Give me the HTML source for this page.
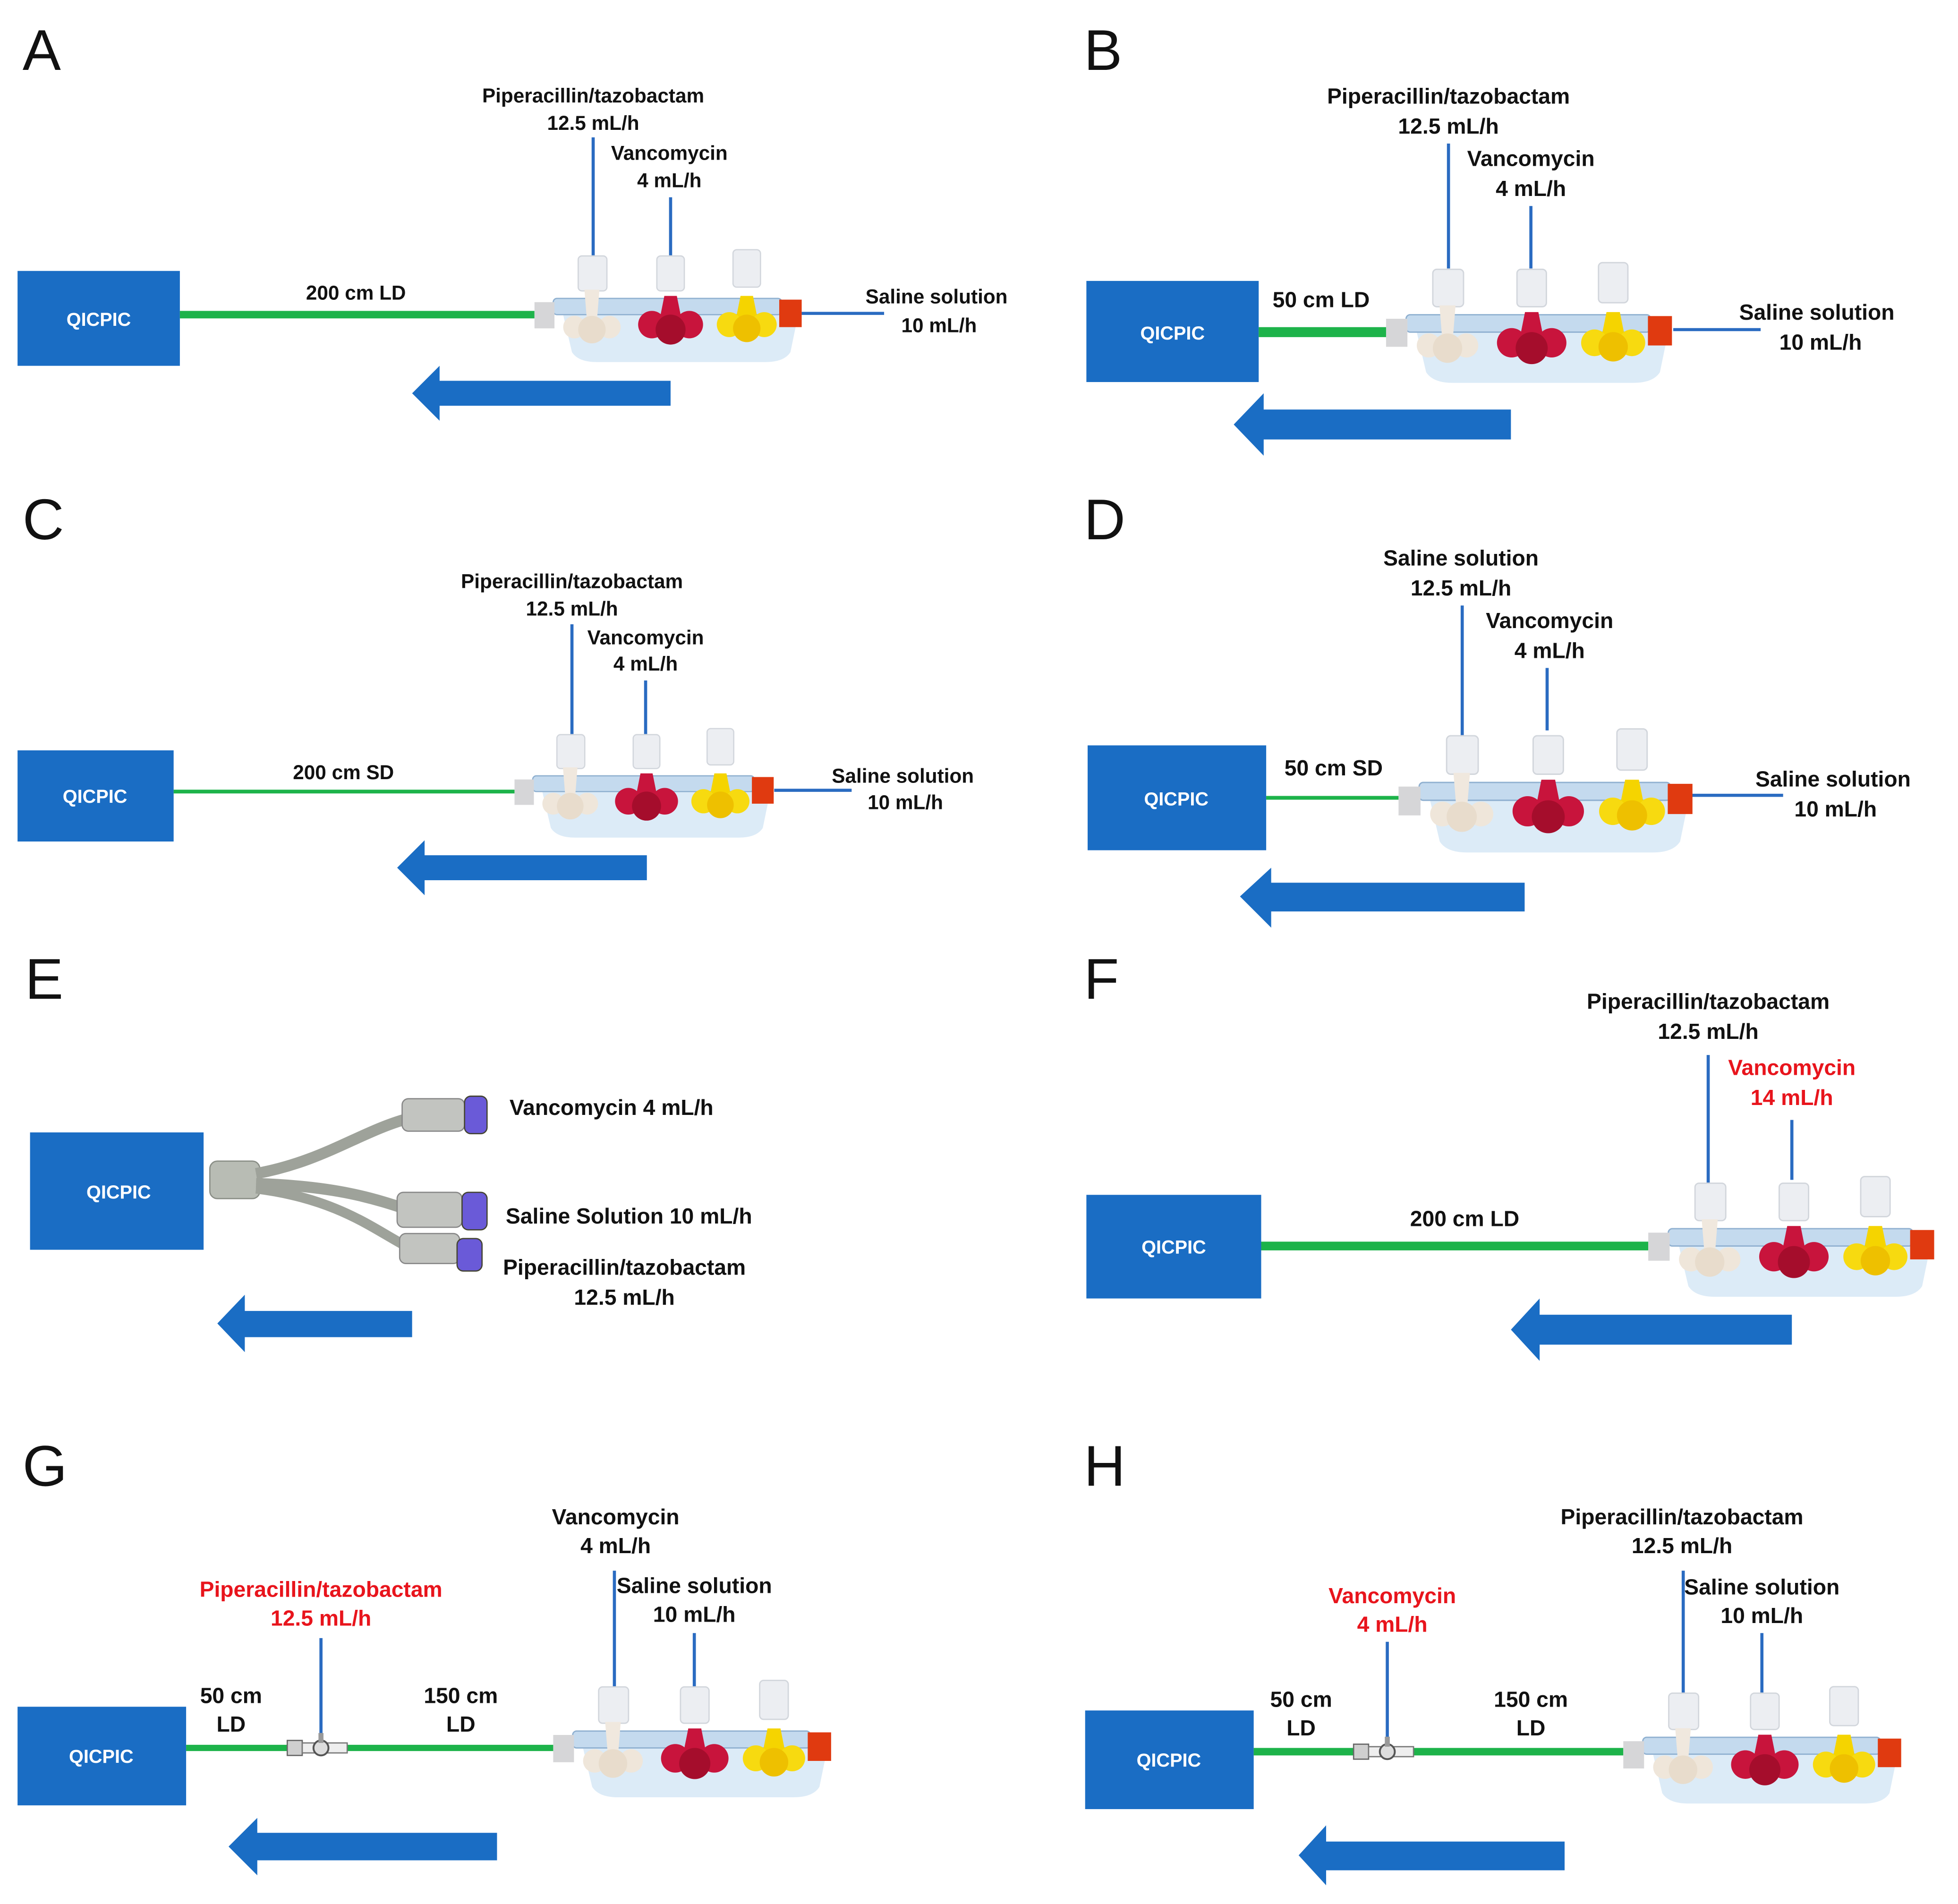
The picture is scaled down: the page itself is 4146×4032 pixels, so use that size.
<!DOCTYPE html>
<html><head><meta charset="utf-8">
<style>
html,body{margin:0;padding:0;background:#fff;}
svg{display:block;}
text{font-family:"Liberation Sans",sans-serif;font-weight:bold;fill:#111;text-anchor:middle;}
.L{font-weight:normal;font-size:46px;text-anchor:start;}
.q{fill:#fff;font-size:15px;}
.r{fill:#e8141c;}
</style></head><body>
<svg width="4146" height="4032" viewBox="0 0 1568 1525" xmlns="http://www.w3.org/2000/svg">
<defs>
<g id="man">
 <path d="M22,-4 L212,-4 L205,30 Q200,38 185,38 L50,38 Q35,38 30,30 Z" fill="#dcebf7"/>
 <rect x="15" y="-13" width="183" height="13" rx="3" fill="#c4daee" stroke="#8fb0d0" stroke-width="1"/>
 <rect x="0" y="-10" width="16" height="21" fill="#d6d6d8"/>
 <rect x="35" y="-47" width="23" height="28" rx="3" fill="#eceef2" stroke="#d2d6dc"/>
 <path d="M40,-20 L52,-20 L50,5 L42,5Z" fill="#f0e8de"/>
 <circle cx="32" cy="10" r="9" fill="#efe6da"/><circle cx="60" cy="10" r="9" fill="#efe6da"/><circle cx="46" cy="12" r="11" fill="#e8dccc"/>
 <rect x="98" y="-47" width="22" height="28" rx="3" fill="#eceef2" stroke="#d2d6dc"/>
 <path d="M104,-15 L114,-15 L118,5 L100,5Z" fill="#c8143c"/>
 <circle cx="94" cy="8" r="11" fill="#c8143c"/><circle cx="124" cy="8" r="11" fill="#c8143c"/><circle cx="109" cy="12" r="12" fill="#a50d2c"/>
 <rect x="159" y="-52" width="22" height="30" rx="3" fill="#eceef2" stroke="#d2d6dc"/>
 <path d="M165,-15 L175,-15 L179,5 L161,5Z" fill="#f5d400"/>
 <circle cx="156" cy="8" r="10" fill="#f7da10"/><circle cx="184" cy="8" r="10" fill="#f7da10"/><circle cx="170" cy="11" r="11" fill="#eec000"/>
 <rect x="196" y="-12" width="18" height="22" fill="#e03a10"/>
</g>
<g id="sc">
 <rect x="-27" y="-6" width="12" height="12" fill="#cfcfcf" stroke="#666" stroke-width="1"/>
 <rect x="-15" y="-4" width="36" height="8" fill="#eee" stroke="#777" stroke-width="1"/>
 <circle cx="0" cy="0" r="6" fill="#ddd" stroke="#555" stroke-width="1.5"/>
 <rect x="-2" y="-12" width="4" height="8" fill="#999"/>
</g>
</defs>
<g fill="#1a6dc4">
<rect x="14" y="217" width="130" height="76"/>
<rect x="870" y="225" width="138" height="81"/>
<rect x="14" y="601" width="125" height="73"/>
<rect x="871" y="597" width="143" height="84"/>
<rect x="24" y="907" width="139" height="94"/>
<rect x="870" y="957" width="140" height="83"/>
<rect x="14" y="1367" width="135" height="79"/>
<rect x="869" y="1370" width="135" height="79"/>
<path d="M352,305 L537,305 L537,325 L352,325 L352,337 L330,315 L352,293Z"/>
<path d="M1012,328 L1210,328 L1210,352 L1012,352 L1012,365 L988,340 L1012,315Z"/>
<path d="M340,685 L518,685 L518,705 L340,705 L340,717 L318,695 L340,673Z"/>
<path d="M1018,707 L1221,707 L1221,730 L1018,730 L1018,743 L993,718 L1018,695Z"/>
<path d="M196,1050 L330,1050 L330,1071 L196,1071 L196,1083 L174,1060 L196,1037Z"/>
<path d="M1233,1053 L1435,1053 L1435,1077 L1233,1077 L1233,1090 L1210,1065 L1233,1040Z"/>
<path d="M206,1468 L398,1468 L398,1490 L206,1490 L206,1502 L183,1479 L206,1456Z"/>
<path d="M1062,1475 L1253,1475 L1253,1498 L1062,1498 L1062,1510 L1040,1486 L1062,1462Z"/>
</g>
<g stroke="#1db34a">
<line x1="144" y1="252" x2="428" y2="252" stroke-width="6"/>
<line x1="1008" y1="266" x2="1112" y2="266" stroke-width="8"/>
<line x1="139" y1="634" x2="412" y2="634" stroke-width="3"/>
<line x1="1014" y1="639" x2="1120" y2="639" stroke-width="3"/>
<line x1="1010" y1="998" x2="1320" y2="998" stroke-width="7"/>
<line x1="149" y1="1400" x2="443" y2="1400" stroke-width="5"/>
<line x1="1004" y1="1403" x2="1300" y2="1403" stroke-width="6"/>
</g>
<g stroke="#2a6bc1" stroke-width="2.5">
<line x1="475" y1="110" x2="475" y2="205"/><line x1="537" y1="158" x2="537" y2="205"/><line x1="642" y1="251" x2="708" y2="251"/>
<line x1="1160" y1="115" x2="1160" y2="215"/><line x1="1226" y1="165" x2="1226" y2="215"/><line x1="1340" y1="264" x2="1410" y2="264"/>
<line x1="458" y1="500" x2="458" y2="590"/><line x1="517" y1="545" x2="517" y2="590"/><line x1="620" y1="633" x2="682" y2="633"/>
<line x1="1171" y1="485" x2="1171" y2="590"/><line x1="1239" y1="535" x2="1239" y2="585"/><line x1="1355" y1="637" x2="1428" y2="637"/>
<line x1="1368" y1="845" x2="1368" y2="948"/><line x1="1435" y1="897" x2="1435" y2="945"/>
<line x1="257" y1="1312" x2="257" y2="1390"/><line x1="492" y1="1258" x2="492" y2="1360"/><line x1="556" y1="1308" x2="556" y2="1360"/>
<line x1="1111" y1="1315" x2="1111" y2="1393"/><line x1="1348" y1="1258" x2="1348" y2="1360"/><line x1="1411" y1="1308" x2="1411" y2="1360"/>
</g>
<use href="#man" transform="translate(428,252)"/>
<use href="#man" transform="translate(1110,266) scale(1.07)"/>
<use href="#man" transform="translate(412,634) scale(0.97)"/>
<use href="#man" transform="translate(1120,641) scale(1.1)"/>
<use href="#man" transform="translate(1320,998) scale(1.07)"/>
<use href="#man" transform="translate(443,1400) scale(1.04)"/>
<use href="#man" transform="translate(1300,1405) scale(1.04)"/>
<use href="#sc" transform="translate(257,1400)"/>
<use href="#sc" transform="translate(1111,1403)"/>
<!-- E connector -->
<g>
<rect x="168" y="930" width="40" height="30" rx="6" fill="#b8bcb4" stroke="#8a8e86"/>
<path d="M205,940 C260,930 290,905 330,895" stroke="#9ea29a" stroke-width="9" fill="none"/>
<path d="M205,948 C270,950 300,960 330,970" stroke="#9ea29a" stroke-width="9" fill="none"/>
<path d="M205,952 C270,960 300,985 325,998" stroke="#9ea29a" stroke-width="8" fill="none"/>
<rect x="322" y="880" width="50" height="26" rx="5" fill="#c2c4c0" stroke="#888"/>
<rect x="318" y="955" width="52" height="28" rx="5" fill="#c2c4c0" stroke="#888"/>
<rect x="320" y="988" width="48" height="24" rx="5" fill="#c2c4c0" stroke="#888"/>
<rect x="372" y="878" width="18" height="30" rx="5" fill="#6a5ad8" stroke="#443"/>
<rect x="370" y="955" width="20" height="30" rx="5" fill="#6a5ad8" stroke="#443"/>
<rect x="366" y="992" width="20" height="26" rx="5" fill="#6a5ad8" stroke="#443"/>
</g>
<g class="L">
<text x="18" y="56" class="L">A</text><text x="868" y="56" class="L">B</text>
<text x="18" y="432" class="L">C</text><text x="868" y="432" class="L">D</text>
<text x="20" y="800" class="L">E</text><text x="868" y="800" class="L">F</text>
<text x="18" y="1190" class="L">G</text><text x="868" y="1190" class="L">H</text>
</g>
<g class="q">
<text x="79" y="261" class="q">QICPIC</text><text x="939" y="272" class="q">QICPIC</text>
<text x="76" y="643" class="q">QICPIC</text><text x="942" y="645" class="q">QICPIC</text>
<text x="95" y="960" class="q">QICPIC</text><text x="940" y="1004" class="q">QICPIC</text>
<text x="81" y="1412" class="q">QICPIC</text><text x="936" y="1415" class="q">QICPIC</text>
</g>
<g font-size="16">
<text x="475" y="82">Piperacillin/tazobactam</text><text x="475" y="104">12.5 mL/h</text>
<text x="536" y="128">Vancomycin</text><text x="536" y="150">4 mL/h</text>
<text x="750" y="243">Saline solution</text><text x="752" y="266">10 mL/h</text>
<text x="285" y="240">200 cm LD</text>
<text x="458" y="471">Piperacillin/tazobactam</text><text x="458" y="493">12.5 mL/h</text>
<text x="517" y="516">Vancomycin</text><text x="517" y="537">4 mL/h</text>
<text x="723" y="627">Saline solution</text><text x="725" y="648">10 mL/h</text>
<text x="275" y="624">200 cm SD</text>
</g>
<g font-size="17.5">
<text x="1160" y="83">Piperacillin/tazobactam</text><text x="1160" y="107">12.5 mL/h</text>
<text x="1226" y="133">Vancomycin</text><text x="1226" y="157">4 mL/h</text>
<text x="1455" y="256">Saline solution</text><text x="1458" y="280">10 mL/h</text>
<text x="1058" y="246">50 cm LD</text>
<text x="1170" y="453">Saline solution</text><text x="1170" y="477">12.5 mL/h</text>
<text x="1241" y="503">Vancomycin</text><text x="1241" y="527">4 mL/h</text>
<text x="1468" y="630">Saline solution</text><text x="1470" y="654">10 mL/h</text>
<text x="1068" y="621">50 cm SD</text>
<text x="408" y="893" style="text-anchor:start">Vancomycin 4 mL/h</text>
<text x="405" y="980" style="text-anchor:start">Saline Solution 10 mL/h</text>
<text x="500" y="1021">Piperacillin/tazobactam</text><text x="500" y="1045">12.5 mL/h</text>
<text x="1368" y="808">Piperacillin/tazobactam</text><text x="1368" y="832">12.5 mL/h</text>
<text x="1435" y="861" class="r">Vancomycin</text><text x="1435" y="885" class="r">14 mL/h</text>
<text x="1173" y="982">200 cm LD</text>
<text x="257" y="1279" class="r">Piperacillin/tazobactam</text><text x="257" y="1302" class="r">12.5 mL/h</text>
<text x="493" y="1221">Vancomycin</text><text x="493" y="1244">4 mL/h</text>
<text x="556" y="1276">Saline solution</text><text x="556" y="1299">10 mL/h</text>
<text x="185" y="1364">50 cm</text><text x="185" y="1387">LD</text>
<text x="369" y="1364">150 cm</text><text x="369" y="1387">LD</text>
<text x="1115" y="1284" class="r">Vancomycin</text><text x="1115" y="1307" class="r">4 mL/h</text>
<text x="1347" y="1221">Piperacillin/tazobactam</text><text x="1347" y="1244">12.5 mL/h</text>
<text x="1411" y="1277">Saline solution</text><text x="1411" y="1300">10 mL/h</text>
<text x="1042" y="1367">50 cm</text><text x="1042" y="1390">LD</text>
<text x="1226" y="1367">150 cm</text><text x="1226" y="1390">LD</text>
</g>
</svg>
</body></html>
